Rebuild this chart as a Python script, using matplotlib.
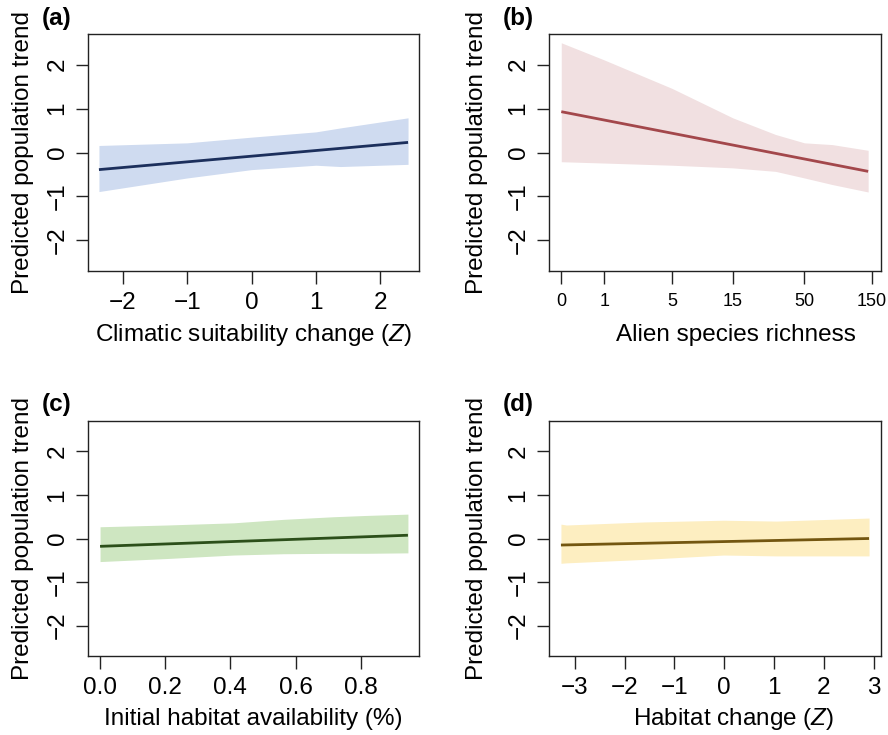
import numpy as np
import matplotlib
matplotlib.use("Agg")
import matplotlib.pyplot as plt

plt.rcParams['font.family'] = ['Liberation Sans', 'DejaVu Sans']
plt.rcParams['mathtext.fontset'] = 'custom'
plt.rcParams['mathtext.rm'] = 'Liberation Sans'
plt.rcParams['mathtext.it'] = 'Liberation Sans:italic'

# (a) climatic suitability change
clim_x = [-2.37, -1.0, 0.0, 1.0, 1.38, 2.43]
clim_hi = [0.16, 0.22, 0.35, 0.47, 0.56, 0.79]
clim_lo = [-0.89, -0.58, -0.39, -0.29, -0.32, -0.27]
clim_line_x = [-2.37, 2.43]
clim_line_y = [-0.39, 0.23]

# (b) alien species richness
alien_x = [0, 1, 5, 15, 31, 50, 79, 142]
alien_hi = [2.50, 2.11, 1.46, 0.79, 0.41, 0.22, 0.18, 0.05]
alien_lo = [-0.21, -0.24, -0.29, -0.35, -0.43, -0.58, -0.73, -0.90]
alien_line_x = [0, 142]
alien_line_y = [0.93, -0.43]

# (c) initial habitat availability
hab_x = [0.0, 0.205, 0.41, 0.563, 0.716, 0.818, 0.945]
hab_hi = [0.27, 0.31, 0.36, 0.44, 0.50, 0.53, 0.56]
hab_lo = [-0.53, -0.46, -0.38, -0.35, -0.34, -0.34, -0.33]
hab_line_x = [0.0, 0.945]
hab_line_y = [-0.18, 0.075]

# (d) habitat change
hchg_x = [-3.28, -3.17, -1.61, -0.01, 1.05, 2.91]
hchg_hi = [0.33, 0.31, 0.38, 0.42, 0.40, 0.47]
hchg_lo = [-0.57, -0.56, -0.48, -0.38, -0.40, -0.40]
hchg_line_x = [-3.28, 2.91]
hchg_line_y = [-0.15, 0.0]

y_ticks = [-2, -1, 0, 1, 2]
alien_ticks = [0, 1, 5, 15, 50, 150]

W, H = 888, 735
FS = 17.5
fig = plt.figure(figsize=(W / 100, H / 100), dpi=100)


def make_ax(left, top, right, bottom):
    return fig.add_axes([left / W, 1 - bottom / H, (right - left) / W, (bottom - top) / H])


panels = [
    dict(box=(88, 34, 419, 271), x=clim_x, hi=clim_hi, lo=clim_lo,
         lx=clim_line_x, ly=clim_line_y, fill='#cfdbf0', line='#1c2f5c',
         xlim=(-2.54, 2.60), xticks=[-2, -1, 0, 1, 2],
         xlabel='Climatic suitability change ($\\mathit{Z}$)', tag='(a)',
         ylab_x=-0.196, xlab_x=0.5),
    dict(box=(549, 34, 881, 271), x=alien_x, hi=alien_hi, lo=alien_lo,
         lx=alien_line_x, ly=alien_line_y, fill='#f1e0e1', line='#a3474b',
         xlim=(-0.18, 175), xticks=alien_ticks,
         xlabel='Alien species richness', tag='(b)',
         ylab_x=-0.216, xlab_x=0.562),
    dict(box=(88, 421, 419, 656), x=hab_x, hi=hab_hi, lo=hab_lo,
         lx=hab_line_x, ly=hab_line_y, fill='#cee6c1', line='#2c4f1a',
         xlim=(-0.037, 0.979), xticks=[0.0, 0.2, 0.4, 0.6, 0.8],
         xlabel='Initial habitat availability (%)', tag='(c)',
         ylab_x=-0.196, xlab_x=0.5),
    dict(box=(549, 421, 881, 656), x=hchg_x, hi=hchg_hi, lo=hchg_lo,
         lx=hchg_line_x, ly=hchg_line_y, fill='#fdeec1', line='#735610',
         xlim=(-3.52, 3.15), xticks=[-3, -2, -1, 0, 1, 2, 3],
         xlabel='Habitat change ($\\mathit{Z}$)', tag='(d)',
         ylab_x=-0.216, xlab_x=0.556),
]

for i, p in enumerate(panels):
    ax = make_ax(*p['box'])
    if i == 1:
        ax.set_xscale('function', functions=(np.log1p, np.expm1))
    ax.fill_between(p['x'], p['lo'], p['hi'], color=p['fill'], lw=0)
    ax.plot(p['lx'], p['ly'], color=p['line'], lw=2.0, solid_capstyle='butt')
    ax.set_xlim(*p['xlim'])
    ax.set_ylim(-2.7, 2.7)
    ax.set_xticks(p['xticks'])
    if i == 1:
        ax.set_xticklabels([str(t) for t in alien_ticks])
    elif i == 2:
        ax.set_xticklabels(['%.1f' % t for t in p['xticks']])
    ax.set_yticks(y_ticks)
    ax.tick_params(direction='out', length=9, width=1.0, labelsize=FS, color='#222222')
    ax.tick_params(axis='x', pad=6)
    ax.tick_params(axis='y', pad=5, labelrotation=90)
    if i == 1:
        ax.tick_params(axis='x', labelsize=13, pad=7)
    for lab in ax.get_yticklabels():
        lab.set_va('center')
    for s in ax.spines.values():
        s.set_linewidth(1.0)
        s.set_color('#222222')
    ax.set_ylabel('Predicted population trend', fontsize=FS, va='center')
    ax.yaxis.set_label_coords(p['ylab_x'], 0.5)
    ax.set_xlabel(p['xlabel'], fontsize=FS, va='center')
    ax.xaxis.set_label_coords(p['xlab_x'], -0.27)
    left, top = p['box'][0], p['box'][1]
    fig.text((left - 46) / W, 1 - (top - 16) / H, p['tag'], fontsize=FS,
             fontweight='bold', ha='left', va='center')

fig.savefig('out.png', dpi=100)
